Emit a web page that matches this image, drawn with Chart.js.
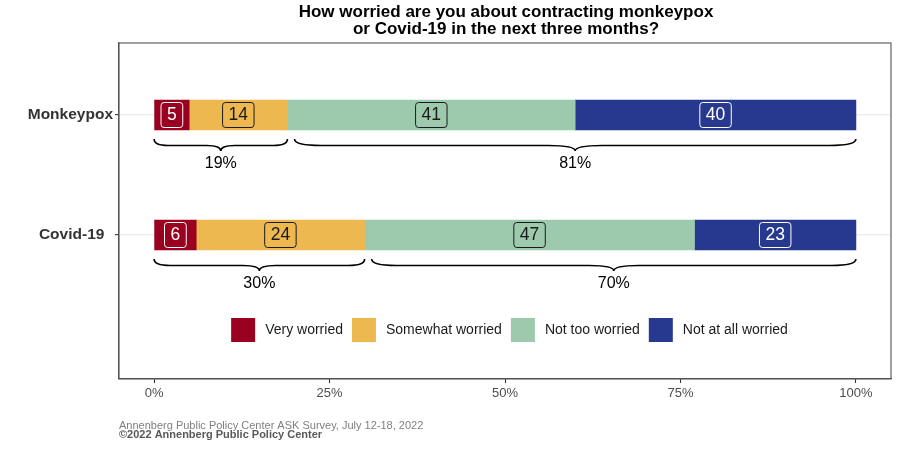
<!DOCTYPE html>
<html>
<head>
<meta charset="utf-8">
<script src="https://cdn.jsdelivr.net/npm/chart.js@4.4.0/dist/chart.umd.min.js"></script>
<style>
  html, body { margin: 0; padding: 0; background: #fff; }
</style>
</head>
<body>
<canvas id="chart" width="900" height="450"></canvas>
<script>
// Survey answers, percent of respondents
const categories = ['Monkeypox', 'Covid-19'];
const seriesNames = ['Very worried', 'Somewhat worried', 'Not too worried', 'Not at all worried'];
const veryWorried = [5, 6];
const somewhatWorried = [14, 24];
const notTooWorried = [41, 47];
const notAtAllWorried = [40, 23];
const xTicks = [0, 25, 50, 75, 100];

const titleLines = ['How worried are you about contracting monkeypox', 'or Covid-19 in the next three months?'];
const sourceNote = 'Annenberg Public Policy Center ASK Survey, July 12-18, 2022';
const copyrightNote = '\u00a92022 Annenberg Public Policy Center';

const seriesValues = [veryWorried, somewhatWorried, notTooWorried, notAtAllWorried];
const colors = ['#9a0020', '#edb84f', '#9dcaad', '#27398f'];
const inks = ['#ffffff', '#1a1a1a', '#1a1a1a', '#ffffff'];
const FONT = '"Liberation Sans", Arial, Helvetica, sans-serif';

function drawBrace(ctx, x1, x2, top, text) {
    const xm = (x1 + x2) / 2;
    const half = xm - x1;
    const mid = top + 6.5;
    const tip = top + 12;
    const k = Math.min(half * 0.3, 10 + half * 0.06);

    ctx.beginPath();
    ctx.moveTo(x1, top);
    ctx.quadraticCurveTo(x1, mid, x1 + k, mid);
    ctx.lineTo(xm - k, mid);
    ctx.quadraticCurveTo(xm, mid, xm, tip);
    ctx.quadraticCurveTo(xm, mid, xm + k, mid);
    ctx.lineTo(x2 - k, mid);
    ctx.quadraticCurveTo(x2, mid, x2, top);
    ctx.strokeStyle = '#000';
    ctx.lineWidth = 1.6;
    ctx.stroke();

    ctx.fillStyle = '#000';
    ctx.font = '16px ' + FONT;
    ctx.textAlign = 'center';
    ctx.textBaseline = 'middle';
    ctx.fillText(text, xm, tip + 13);
}

const annotate = {
    id: 'annotate',
    afterDatasetsDraw(chart) {
        const { ctx, scales: { x } } = chart;
        ctx.save();

        // boxed value labels in the middle of each segment
        ctx.font = '17.5px ' + FONT;
        ctx.textAlign = 'center';
        ctx.textBaseline = 'middle';
        chart.data.datasets.forEach((ds, i) => {
            chart.getDatasetMeta(i).data.forEach((bar, j) => {
                const text = String(seriesValues[i][j]);
                const cx = (bar.x + bar.base) / 2;
                const w = ctx.measureText(text).width + 12;
                const h = 25;
                ctx.beginPath();
                ctx.roundRect(cx - w / 2, bar.y - h / 2, w, h, 3);
                ctx.strokeStyle = ds.ink;
                ctx.lineWidth = 1;
                ctx.stroke();
                ctx.fillStyle = ds.ink;
                ctx.fillText(text, cx, bar.y + 0.5);
            });
        });

        // braces: worried vs not worried
        const lastMeta = chart.getDatasetMeta(chart.data.datasets.length - 1);
        categories.forEach((c, j) => {
            const bar = lastMeta.data[j];
            const top = bar.y + bar.height / 2 + 9;
            const worried = veryWorried[j] + somewhatWorried[j];
            const notWorried = notTooWorried[j] + notAtAllWorried[j];
            drawBrace(ctx, x.getPixelForValue(0), x.getPixelForValue(worried), top, worried + '%');
            drawBrace(ctx, x.getPixelForValue(worried + 1), x.getPixelForValue(100), top, notWorried + '%');
        });
        ctx.restore();
    },
    afterDraw(chart) {
        const { ctx, chartArea: a } = chart;
        const centre = (a.left + a.right) / 2;
        ctx.save();

        // panel border
        ctx.strokeStyle = '#555';
        ctx.lineWidth = 1.1;
        ctx.strokeRect(a.left, a.top, a.right - a.left, a.bottom - a.top);

        // title, centred over the panel
        ctx.fillStyle = '#000';
        ctx.font = 'bold 17px ' + FONT;
        ctx.textAlign = 'center';
        ctx.textBaseline = 'alphabetic';
        titleLines.forEach((line, i) => {
            ctx.fillText(line, centre + 1, 16.7 + i * 17.4);
        });

        // legend inside the panel
        ctx.font = '14px ' + FONT;
        ctx.textBaseline = 'middle';
        ctx.textAlign = 'left';
        const sq = 24, gapText = 10, gapItem = 9, ly = 330;
        const widths = chart.data.datasets.map(ds => ctx.measureText(ds.label).width);
        const total = widths.reduce((s, w) => s + sq + gapText + w, 0) + gapItem * (widths.length - 1);
        let lx = centre + 4.5 - total / 2;
        chart.data.datasets.forEach((ds, i) => {
            ctx.fillStyle = ds.backgroundColor;
            ctx.fillRect(lx, ly - sq / 2, sq, sq);
            ctx.fillStyle = '#1a1a1a';
            ctx.fillText(ds.label, lx + sq + gapText, ly);
            lx += sq + gapText + widths[i] + gapItem;
        });

        // source lines
        ctx.textBaseline = 'alphabetic';
        ctx.font = '11px ' + FONT;
        ctx.fillStyle = '#808080';
        ctx.fillText(sourceNote, a.left, 429);
        ctx.font = 'bold 11px ' + FONT;
        ctx.fillStyle = '#595959';
        ctx.fillText(copyrightNote, a.left, 438);
        ctx.restore();
    }
};

new Chart(document.getElementById('chart'), {
    type: 'bar',
    data: {
        datasets: seriesValues.map((vals, i) => ({
            label: seriesNames[i],
            data: vals.map((v, j) => ({ x: v, y: j })),
            backgroundColor: colors[i],
            borderWidth: 0,
            barThickness: 30,
            ink: inks[i]
        }))
    },
    options: {
        indexAxis: 'y',
        responsive: false,
        animation: false,
        layout: { padding: { top: 43, right: 9, left: 0, bottom: 0 } },
        plugins: {
            legend: { display: false },
            title: { display: false },
            tooltip: { enabled: false }
        },
        scales: {
            x: {
                type: 'linear',
                stacked: true,
                min: -5,
                max: 105,
                afterBuildTicks: s => { s.ticks = xTicks.map(v => ({ value: v })); },
                afterFit: s => { s.height = 71; },
                grid: { drawOnChartArea: false, drawTicks: true, tickLength: 4, tickColor: '#333', tickWidth: 1.1 },
                border: { display: true, color: '#555', width: 1.1 },
                ticks: {
                    padding: 3,
                    color: '#4d4d4d',
                    maxRotation: 0,
                    autoSkip: false,
                    font: { family: FONT, size: 13 },
                    callback: v => v + '%'
                }
            },
            y: {
                type: 'linear',
                stacked: true,
                reverse: true,
                offset: false,
                min: -0.6,
                max: 2.2,
                afterBuildTicks: s => { s.ticks = categories.map((c, i) => ({ value: i })); },
                afterFit: s => { s.width = 119; },
                grid: { offset: false, color: '#ebebeb', lineWidth: 1.3, drawTicks: true, tickLength: 4, tickColor: '#333', tickWidth: 1.1 },
                border: { display: true, color: '#555', width: 1.1 },
                ticks: {
                    padding: 2,
                    color: '#333',
                    autoSkip: false,
                    font: { family: FONT, size: 15.5, weight: 'bold' },
                    // ggplot label had trailing spaces on the second row
                    callback: v => categories[v] + (v === 1 ? '  ' : '')
                }
            }
        }
    },
    plugins: [annotate]
});
</script>
</body>
</html>
